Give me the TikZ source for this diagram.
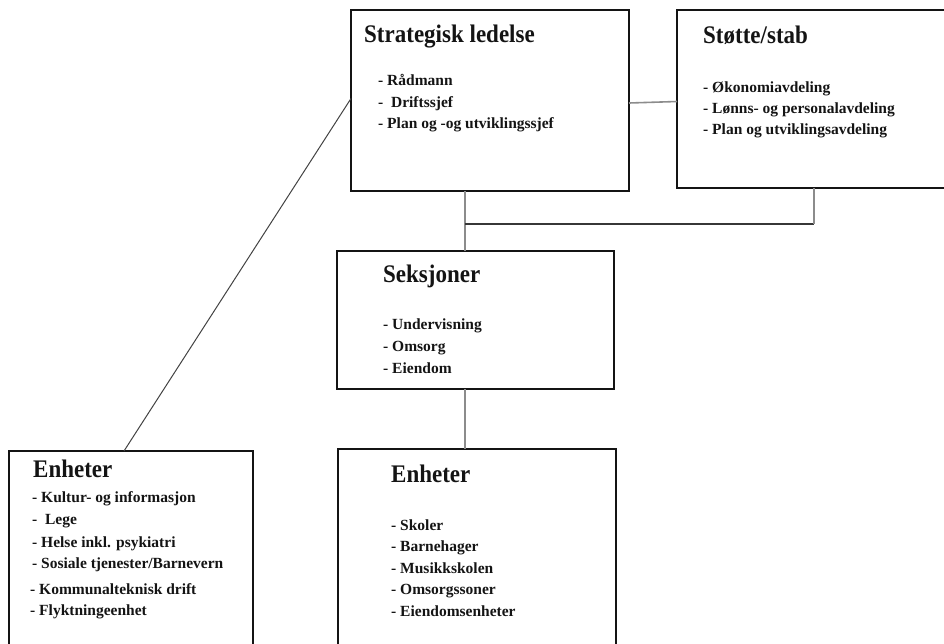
\documentclass[tikz,border=0pt]{standalone}
\usepackage{fontspec}
\usepackage{graphicx}
\setmainfont{Liberation Serif}
\usetikzlibrary{calc}
\definecolor{conngray}{HTML}{8C8C8C}
\definecolor{ink}{HTML}{141414}
\newcommand{\ttltext}[1]{\scalebox{1}[1.1]{#1}}
\tikzset{
  orgbox/.style={draw=ink, line width=1.3pt, rectangle, inner sep=0pt, outer sep=0pt},
  ttl/.style={anchor=base west, inner sep=0pt, text=ink, font=\fontsize{23}{26}\selectfont\bfseries},
  itm/.style={anchor=base west, inner sep=0pt, text=ink, font=\fontsize{15.5}{18}\selectfont\bfseries},
  grayline/.style={draw=conngray, line width=1.6pt},
  darkline/.style={draw=ink!85, line width=1.5pt},
  diagline/.style={draw=ink!80, line width=1pt}
}
\begin{document}
\begin{tikzpicture}[x=1pt,y=-1pt]
\useasboundingbox (0,0) rectangle (944,643);
\clip (0,0) rectangle (944,643);
\fill[white] (0,0) rectangle (944,643);

% boxes
\node[orgbox, minimum width=278pt, minimum height=181pt] (sl) at (490,100.5) {};
\node[orgbox, minimum width=283pt, minimum height=178pt] (ss) at (818.5,99) {};
\node[orgbox, minimum width=277pt, minimum height=138pt] (sek) at (475.5,320) {};
\node[orgbox, minimum width=244pt, minimum height=209pt] (en1) at (131,555.5) {};
\node[orgbox, minimum width=278pt, minimum height=211pt] (en2) at (477,554.5) {};

% junction coordinates
\coordinate (j1) at (465,224);
\coordinate (j2) at (814,224);

% connectors
\draw[grayline] ([yshift=-2.5pt]sl.east) -- ([yshift=-2.5pt]ss.west);
\draw[grayline] (sl.south -| j1) -- (sek.north -| j1);
\draw[darkline] (j1) -- (j2);
\draw[grayline] (j2) -- (ss.south -| j2);
\draw[grayline] (sek.south -| j1) -- (en2.north -| j1);
\draw[diagline] ([xshift=-7pt]en1.north) -- ([yshift=2pt]sl.west);

% Strategisk ledelse
\node[ttl] (slt) at (364,42) {\ttltext{Strategisk ledelse}};
\node[itm] (sl1) at (378,85) {- Rådmann};
\node[itm] (sl2) at (378,107) {-\ \ Driftssjef};
\node[itm] (sl3) at (378,128) {- Plan og -og utviklingssjef};

% Støtte/stab
\node[ttl] (sst) at (703,43) {\ttltext{Støtte/stab}};
\node[itm] (ss1) at (703,92) {- Økonomiavdeling};
\node[itm] (ss2) at (703,113) {- Lønns- og personalavdeling};
\node[itm] (ss3) at (703,134) {- Plan og utviklingsavdeling};

% Seksjoner
\node[ttl] (sekt) at (383,282) {\ttltext{Seksjoner}};
\node[itm] (sek1) at (383,329) {- Undervisning};
\node[itm] (sek2) at (383,351) {- Omsorg};
\node[itm] (sek3) at (383,373) {- Eiendom};

% Enheter (left)
\node[ttl] (en1t) at (33,477) {\ttltext{Enheter}};
\node[itm] (en11) at (32,502) {- Kultur- og informasjon};
\node[itm] (en12) at (32,524) {-\ \ Lege};
\node[itm] (en13) at (32,547) {- Helse inkl. psykiatri};
\node[itm] (en14) at (32,568) {- Sosiale tjenester/Barnevern};
\node[itm] (en15) at (30,594) {- Kommunalteknisk drift};
\node[itm] (en16) at (30,615) {- Flyktningeenhet};

% Enheter (middle)
\node[ttl] (en2t) at (391,482) {\ttltext{Enheter}};
\node[itm] (en21) at (391,530) {- Skoler};
\node[itm] (en22) at (391,551) {- Barnehager};
\node[itm] (en23) at (391,573) {- Musikkskolen};
\node[itm] (en24) at (391,594) {- Omsorgssoner};
\node[itm] (en25) at (391,616) {- Eiendomsenheter};
\end{tikzpicture}
\end{document}
